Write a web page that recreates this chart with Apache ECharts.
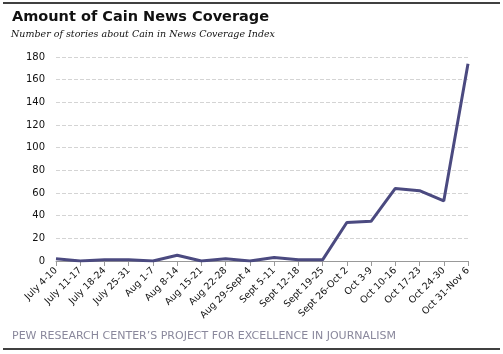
<!DOCTYPE html>
<html>
<head>
<meta charset="utf-8">
<script src="https://cdn.jsdelivr.net/npm/echarts@6/dist/echarts.min.js"></script>
<style>
  html, body { margin: 0; padding: 0; background: #fff; }
  #chart { width: 503px; height: 354px; }
</style>
</head>
<body>
<div id="chart"></div>
<script>
// weeks of coverage
const weeks = [
  'July 4-10', 'July 11-17', 'July 18-24', 'July 25-31', 'Aug 1-7', 'Aug 8-14',
  'Aug 15-21', 'Aug 22-28', 'Aug 29-Sept 4', 'Sept 5-11', 'Sept 12-18', 'Sept 19-25',
  'Sept 26-Oct 2', 'Oct 3-9', 'Oct 10-16', 'Oct 17-23', 'Oct 24-30', 'Oct 31-Nov 6'
];
// number of stories
const stories = [2, 0, 1, 1, 0, 5, 0, 2, 0, 3, 1, 1, 34, 35, 64, 62, 53, 174];
const yTicks = [0, 20, 40, 60, 80, 100, 120, 140, 160, 180];

const myChart = echarts.init(document.getElementById('chart'));
const option = {
  animation: false,
  title: [
    {
      text: 'Amount of Cain News Coverage',
      left: 12,
      top: 10,
      padding: 0,
      textStyle: { fontFamily: 'DejaVu Sans', fontWeight: 'bold', fontSize: 14.5, color: '#111' }
    },
    {
      text: 'Number of stories about Cain in News Coverage Index',
      left: 11,
      top: 30,
      padding: 0,
      textStyle: { fontFamily: 'DejaVu Serif', fontStyle: 'italic', fontWeight: 'normal', fontSize: 9.5, color: '#111' }
    },
    {
      text: 'PEW RESEARCH CENTER\u2019S PROJECT FOR EXCELLENCE IN JOURNALISM',
      left: 12,
      top: 331,
      padding: 0,
      textStyle: { fontFamily: 'DejaVu Sans', fontWeight: 'normal', fontSize: 11, color: '#8a889c' }
    }
  ],
  graphic: [
    { type: 'line', shape: { x1: 3, y1: 3, x2: 500, y2: 3 }, style: { stroke: '#000', lineWidth: 1.5 } },
    { type: 'line', shape: { x1: 3, y1: 349, x2: 500, y2: 349 }, style: { stroke: '#000', lineWidth: 1.5 } }
  ],
  grid: { left: 56, right: 35, top: 57, bottom: 93, containLabel: false },
  xAxis: {
    type: 'category',
    data: weeks,
    boundaryGap: false,
    axisLine: { lineStyle: { color: '#999', width: 1 } },
    axisTick: { show: true, length: 5, lineStyle: { color: '#999' } },
    axisLabel: {
      rotate: 45,
      interval: 0,
      margin: 8,
      fontFamily: 'DejaVu Sans',
      fontSize: 9.5,
      color: '#111'
    }
  },
  yAxis: {
    type: 'value',
    min: yTicks[0],
    max: yTicks[yTicks.length - 1],
    interval: 20,
    axisLine: { show: false },
    axisTick: { show: false },
    axisLabel: { fontFamily: 'DejaVu Sans', fontSize: 10, color: '#111', margin: 11 },
    splitLine: { lineStyle: { color: '#d4d4d4', type: [4, 2] } }
  },
  series: [
    {
      type: 'line',
      data: stories,
      symbol: 'none',
      lineStyle: { color: '#4b4a80', width: 3 },
      z: 3
    }
  ]
};
myChart.setOption(option);
</script>
</body>
</html>
